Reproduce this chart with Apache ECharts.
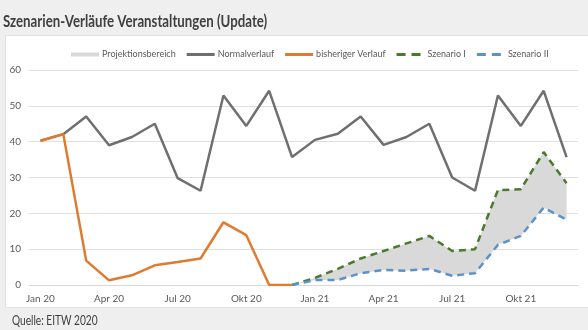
<!DOCTYPE html>
<html><head><meta charset="utf-8">
<script src="https://cdn.jsdelivr.net/npm/echarts@6/dist/echarts.min.js"></script>
<style>html,body{margin:0;padding:0;background:#efefef}#c{width:588px;height:330px}</style>
</head><body><div id="c"></div>
<script>
const categories = ["Jan 20","Feb 20","Mrz 20","Apr 20","Mai 20","Jun 20","Jul 20","Aug 20","Sep 20","Okt 20","Nov 20","Dez 20",
  "Jan 21","Feb 21","Mrz 21","Apr 21","Mai 21","Jun 21","Jul 21","Aug 21","Sep 21","Okt 21","Nov 21","Dez 21"];
const normalverlauf = [40.3,42.1,47.0,39.0,41.3,45.0,29.8,26.3,52.9,44.4,54.2,35.7,
  40.5,42.2,47.0,39.1,41.3,45.0,30.0,26.3,52.9,44.4,54.2,35.7];
const bisherigerVerlauf = [40.2,42.1,6.8,1.3,2.7,5.5,6.4,7.4,17.5,13.9,0,0,
  null,null,null,null,null,null,null,null,null,null,null,null];
const szenario1 = [null,null,null,null,null,null,null,null,null,null,null,0,
  2.0,4.5,7.4,9.5,11.6,13.7,9.5,10.0,26.5,26.7,37.1,28.4];
const szenario2 = [null,null,null,null,null,null,null,null,null,null,null,0,
  1.4,1.4,3.3,4.2,4.0,4.5,2.6,3.3,11.2,13.7,21.6,18.2];
const yTicks = {min:0, max:60, interval:10};

const band = szenario1.map((v,i)=> v==null ? null : +(v - szenario2[i]).toFixed(2));
const font = "Lato, 'Liberation Sans', sans-serif";
const solidIcon = 'path://M0,0h28v3h-28z';
const dashIcon = 'path://M0,0h9v3h-9z M15,0h9v3h-9z M28,0h0v3h0z';
const chart = echarts.init(document.getElementById('c'));
chart.setOption({
  backgroundColor: '#efefef',
  animation: false,
  textStyle: {fontFamily: font},
  graphic: [
    {type:'rect', left:5, top:35, shape:{width:590, height:272},
      style:{fill:'#ffffff', stroke:'#e3e3e3', lineWidth:1}, z:-10},
    {type:'text', x:3, y:13, scaleX:0.78, style:{text:'Szenarien-Verläufe Veranstaltungen (Update)',
      font:"bold 17px Lato, 'Liberation Sans', sans-serif", fill:'#404040'}},
    {type:'text', x:12, y:314, scaleX:0.78, style:{text:'Quelle: EITW 2020',
      font:"13px Lato, 'Liberation Sans', sans-serif", fill:'#404040'}}
  ],
  legend: {top:45, left:66, width:540, itemWidth:28, itemHeight:4, itemGap:11,
    textStyle:{fontSize:9, color:'#595959', fontFamily:font, padding:[0,0,0,-2]},
    data:[{name:'Projektionsbereich', icon:'path://M0,0h28v4h-28z', itemStyle:{color:'#d9d9d9'}},
      {name:'Normalverlauf', icon:solidIcon, itemStyle:{color:'#6f6f6f'}},
      {name:'bisheriger Verlauf', icon:solidIcon, itemStyle:{color:'#e07a2f'}},
      {name:'Szenario I', icon:dashIcon, itemStyle:{color:'#4a7a2e'}},
      {name:'Szenario II', icon:dashIcon, itemStyle:{color:'#5b93c7'}}]},
  grid: {left:29, right:10, top:70, bottom:45},
  xAxis: {type:'category', data:categories, boundaryGap:true,
    axisTick:{show:false}, axisLine:{lineStyle:{color:'#d9d9d9'}},
    axisLabel:{interval:2, color:'#595959', fontSize:10, margin:9}},
  yAxis: {type:'value', min:yTicks.min, max:yTicks.max, interval:yTicks.interval,
    axisLabel:{color:'#595959', fontSize:10, margin:8},
    splitLine:{lineStyle:{color:'#e0e0e0'}}},
  series: [
    {name:'base', type:'line', stack:'p', data:szenario2, symbol:'none',
      lineStyle:{opacity:0}, silent:true, z:1},
    {name:'Projektionsbereich', type:'line', stack:'p', data:band, symbol:'none',
      lineStyle:{opacity:0, width:0}, areaStyle:{color:'#d9d9d9', opacity:1}, itemStyle:{color:'#d9d9d9'}, z:1},
    {name:'Normalverlauf', type:'line', data:normalverlauf, symbol:'none',
      lineStyle:{color:'#6f6f6f', width:2.5}, itemStyle:{color:'#6f6f6f'}, z:2},
    {name:'bisheriger Verlauf', type:'line', data:bisherigerVerlauf, symbol:'none',
      lineStyle:{color:'#e07a2f', width:2.5}, itemStyle:{color:'#e07a2f'}, z:3},
    {name:'Szenario I', type:'line', data:szenario1, symbol:'none',
      lineStyle:{color:'#4a7a2e', width:2.5, type:[7,5]}, itemStyle:{color:'#4a7a2e'}, z:4},
    {name:'Szenario II', type:'line', data:szenario2, symbol:'none',
      lineStyle:{color:'#5b93c7', width:2.5, type:[7,5]}, itemStyle:{color:'#5b93c7'}, z:4}
  ]
});
</script>
</body></html>
